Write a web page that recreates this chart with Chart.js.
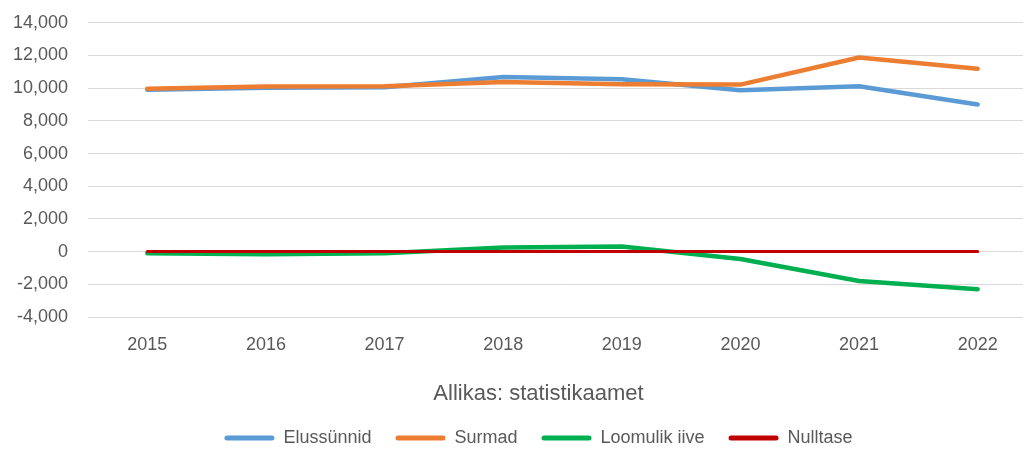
<!DOCTYPE html>
<html>
<head>
<meta charset="utf-8">
<script src="https://cdn.jsdelivr.net/npm/chart.js@4.4.1/dist/chart.umd.min.js"></script>
<style>
  html, body { margin: 0; padding: 0; background: #ffffff; }
  #wrap { width: 1023px; height: 451px; overflow: hidden; position: relative; }
  canvas { display: block; margin-top: -8px; }
</style>
</head>
<body>
<div id="wrap"><canvas id="c" width="1077" height="465" style="width:1077px;height:465px"></canvas></div>
<script>
const categories = ['2015', '2016', '2017', '2018', '2019', '2020', '2021', '2022'];
const elussunnid = [9900, 10020, 10060, 10680, 10540, 9880, 10120, 9000];
const surmad = [9960, 10100, 10120, 10380, 10240, 10220, 11880, 11190];
const loomulikIive = [-100, -160, -100, 250, 320, -450, -1800, -2300];
const nulltase = [0, 0, 0, 0, 0, 0, 0, 0];
const seriesNames = ['Elussünnid', 'Surmad', 'Loomulik iive', 'Nulltase'];
const sourceText = 'Allikas: statistikaamet';
const yMin = -4000, yMax = 14000, yStep = 2000;

const FONT = "'Liberation Sans', Arial, sans-serif";
const TXT = '#595959';

function ds(label, data, color, width, order) {
  return {
    label, data, borderColor: color, backgroundColor: color,
    borderWidth: width, pointRadius: 0, pointHoverRadius: 0,
    tension: 0, borderCapStyle: 'round', borderJoinStyle: 'round',
    fill: false, order, yAxisID: 'y'
  };
}

new Chart(document.getElementById('c'), {
  type: 'line',
  data: {
    labels: categories,
    datasets: [
      ds(seriesNames[0], elussunnid, '#5B9BD5', 4.5, 3),
      ds(seriesNames[1], surmad, '#ED7D31', 4.5, 2),
      ds(seriesNames[2], loomulikIive, '#00B050', 4.5, 1),
      ds(seriesNames[3], nulltase, '#C00000', 3, 0)
    ]
  },
  options: {
    responsive: false,
    animation: false,
    devicePixelRatio: 1,
    layout: { padding: { left: 0, right: 0, top: 14, bottom: 0 } },
    scales: {
      x: {
        offset: true,
        afterFit: (s) => { s.height = 58; },
        grid: { display: false, drawTicks: false },
        border: { display: false },
        ticks: { color: TXT, font: { family: FONT, size: 18 }, padding: 17, maxRotation: 0 }
      },
      y: {
        min: yMin, max: yMax,
        afterFit: (s) => { s.width = 88; },
        grid: { color: '#d9d9d9', lineWidth: 1, drawTicks: false },
        border: { display: false },
        ticks: {
          stepSize: yStep, color: TXT, padding: 20,
          font: { family: FONT, size: 18 },
          callback: (v) => Number(v).toLocaleString('en-US')
        }
      },
      yRight: {
        position: 'right',
        min: yMin, max: yMax,
        afterFit: (s) => { s.width = 40; },
        grid: { display: false, drawTicks: false },
        border: { display: false },
        ticks: { display: false }
      }
    },
    plugins: {
      tooltip: { enabled: false },
      title: {
        display: true, text: sourceText, position: 'bottom', weight: 500,
        color: TXT, font: { family: FONT, size: 22, weight: 'normal', lineHeight: 1 },
        padding: { top: 8, bottom: 0 }
      },
      legend: {
        position: 'bottom', weight: 1000,
        labels: {
          color: TXT, font: { family: FONT, size: 18 },
          boxWidth: 50, boxHeight: 5, padding: 24,
          useBorderRadius: true, borderRadius: 2.5,
          sort: (a, b) => a.datasetIndex - b.datasetIndex,
          generateLabels: (chart) => chart.data.datasets.map((d, i) => ({
            text: d.label, fillStyle: d.borderColor, strokeStyle: d.borderColor,
            lineWidth: 0, hidden: false, datasetIndex: i, fontColor: TXT,
            borderRadius: 2.5
          }))
        }
      }
    }
  }
});
</script>
</body>
</html>
